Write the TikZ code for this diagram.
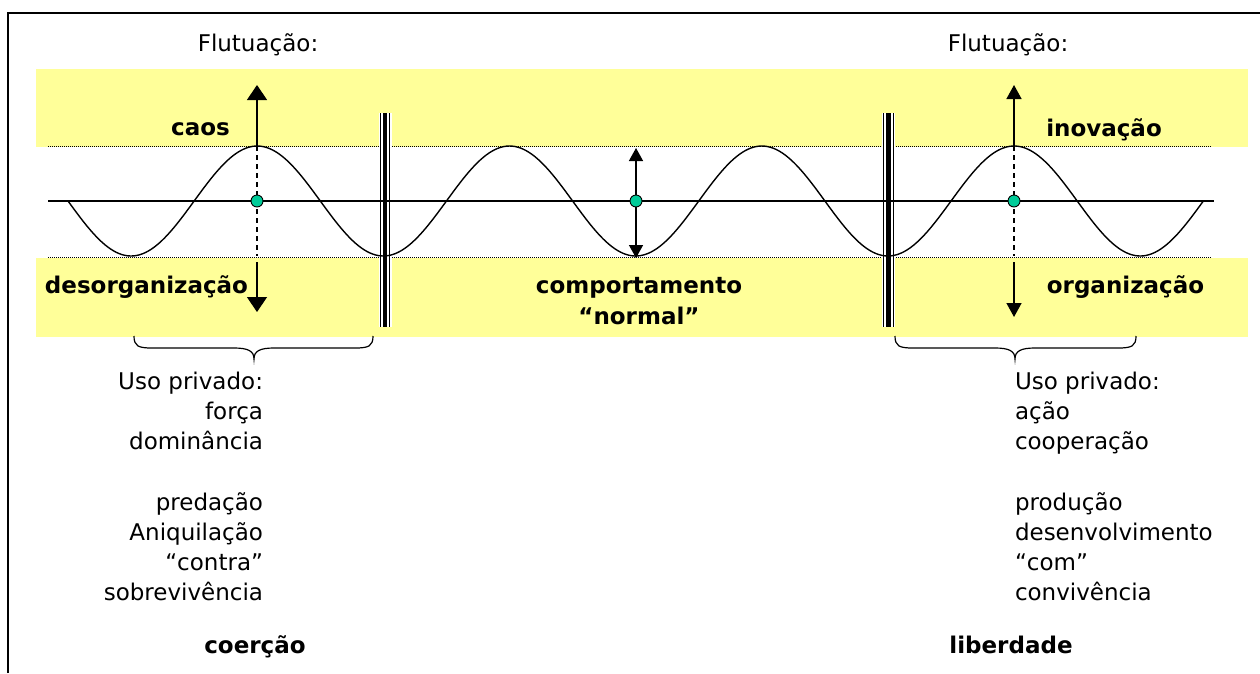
\documentclass[tikz,border=0pt]{standalone}
\usepackage{fontspec}
\setmainfont{DejaVu Sans}
\usetikzlibrary{arrows.meta}
\definecolor{band}{RGB}{255,255,153}
\definecolor{dotc}{RGB}{0,204,153}
\newcommand\mybrace[3]{\draw[bracestyle] (#1,336) .. controls (#1,346) and ({#1+4},348) .. ({#1+18},348) -- ({#2-20},348) .. controls ({#2-6},348) and (#2,351) .. (#2,359) .. controls (#2,351) and ({#2+6},348) .. ({#2+20},348) -- ({#3-18},348) .. controls ({#3-4},348) and (#3,346) .. (#3,336);}
\begin{document}
\begin{tikzpicture}[x=1pt,y=-1pt,
  every node/.style={inner sep=0pt, outer sep=0pt},
  txt/.style={anchor=base, font=\fontsize{23}{30}\selectfont},
  btxt/.style={anchor=base, font=\fontsize{23}{30}\selectfont\bfseries},
  rtxt/.style={anchor=base east, font=\fontsize{23}{30}\selectfont},
  ltxt/.style={anchor=base west, font=\fontsize{23}{30}\selectfont},
  dotline/.style={line width=0.9pt, dash pattern=on 1pt off 1pt},
  axisline/.style={line width=1.3pt},
  wave/.style={line width=1.4pt},
  dashline/.style={line width=1.1pt, dash pattern=on 5pt off 4pt},
  arrL/.style={line width=1.4pt, -{Triangle[width=20pt,length=15pt]}},
  arrR/.style={line width=1.4pt, -{Triangle[width=15pt,length=14pt]}},
  arrM/.style={line width=1.4pt, {Triangle[width=14pt,length=13pt]}-{Triangle[width=14pt,length=13pt]}},
  dot/.style={circle, draw, line width=0.9pt, fill=dotc, minimum size=12pt, inner sep=0pt},
  bracestyle/.style={line width=1.2pt},
  wall/.pic={
    \fill[white] (-6.5,-107) rectangle (6.5,107);
    \draw[line width=1.3pt] (-4.8,-107) -- (-4.8,107) (4.8,-107) -- (4.8,107);
    \draw[line width=4.6pt] (0,-107) -- (0,107);
  }]
\useasboundingbox (0,0) rectangle (1260,673);
% frame
\draw[line width=2pt] (8,673) -- (8,13) -- (1260,13);
% bands
\fill[band] (36,69) rectangle (1248,147);
\fill[band] (36,258) rectangle (1248,337);
% dotted limits
\draw[dotline] (48,146) -- (1212,146);
\draw[dotline] (48,257) -- (1212,257);
% walls
\pic at (385,220) {wall};
\pic at (888.5,220) {wall};
% axis and wave
\draw[axisline] (48,201) -- (1214,201);
\draw[wave] plot[domain=68:1203.4, samples=400, smooth] (\x,{201+55*sin((\x-68)/252.3*360)});
% coordinates
\coordinate (lpk) at (257,146);
\coordinate (lup) at (257,85);
\coordinate (ltr) at (257,256);
\coordinate (ldn0) at (257,262);
\coordinate (ldn) at (257,312);
\coordinate (rpk) at (1014,146);
\coordinate (rup) at (1014,85);
\coordinate (rtr) at (1014,256);
\coordinate (rdn0) at (1014,262);
\coordinate (rdn) at (1014,317);
\coordinate (mtop) at (636,148);
\coordinate (mbot) at (636,258);
% arrows
\draw[dashline] (lpk) -- (ltr);
\draw[arrL] (lpk) -- (lup);
\draw[arrL] (ldn0) -- (ldn);
\draw[dashline] (rpk) -- (rtr);
\draw[arrR] (rpk) -- (rup);
\draw[arrR] (rdn0) -- (rdn);
\draw[arrM] (mbot) -- (mtop);
% dots
\node[dot] (dl) at (257,201) {};
\node[dot] (dm) at (636,201) {};
\node[dot] (dr) at (1014,201) {};
% braces
\mybrace{134}{254}{373}
\mybrace{895}{1015}{1136}
% texts
\node[txt] (fl1) at (258,51) {Flutuação:};
\node[txt] (fl2) at (1008,51) {Flutuação:};
\node[btxt] (caos) at (200.5,135) {caos};
\node[btxt] (deso) at (146.5,293) {desorganização};
\node[btxt] (comp) at (639,293) {comportamento};
\node[btxt] (norm) at (639,324) {“normal”};
\node[btxt] (inov) at (1104,136) {inovação};
\node[btxt] (orga) at (1125.5,293) {organização};
\node[btxt] (coer) at (255,653) {coerção};
\node[btxt] (libe) at (1011,653) {liberdade};
% left block
\node[rtxt] (l1) at (263,389) {Uso privado:};
\node[rtxt] (l2) at (263,419) {força};
\node[rtxt] (l3) at (263,449) {dominância};
\node[rtxt] (l4) at (263,510) {predação};
\node[rtxt] (l5) at (263,540) {Aniquilação};
\node[rtxt] (l6) at (263,570) {“contra”};
\node[rtxt] (l7) at (263,600) {sobrevivência};
% right block
\node[ltxt] (r1) at (1015,389) {Uso privado:};
\node[ltxt] (r2) at (1015,419) {ação};
\node[ltxt] (r3) at (1015,449) {cooperação};
\node[ltxt] (r4) at (1015,510) {produção};
\node[ltxt] (r5) at (1015,540) {desenvolvimento};
\node[ltxt] (r6) at (1015,570) {“com”};
\node[ltxt] (r7) at (1015,600) {convivência};
\end{tikzpicture}
\end{document}
